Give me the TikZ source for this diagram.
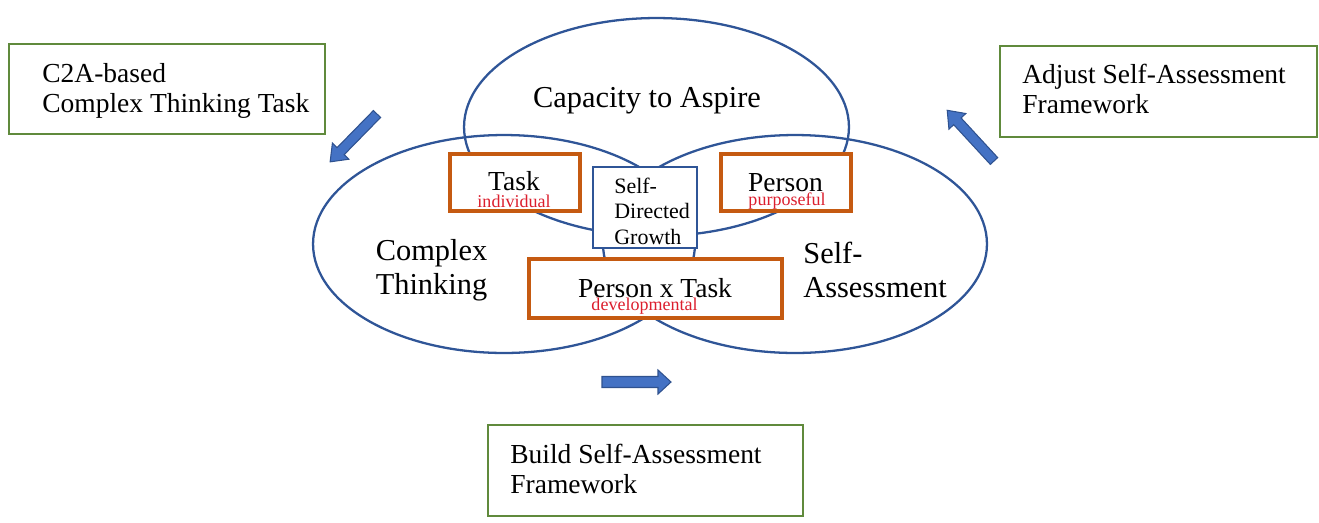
\documentclass[tikz,border=0pt]{standalone}
\usepackage{fontspec}
\setmainfont{Liberation Serif}
\usetikzlibrary{shapes,positioning}

\definecolor{ringblue}{RGB}{47,85,151}
\definecolor{facetorange}{RGB}{197,90,17}
\definecolor{stepgreen}{RGB}{96,138,60}
\definecolor{arrowblue}{RGB}{68,114,196}
\definecolor{arrowedge}{RGB}{47,82,143}
\definecolor{tagred}{RGB}{220,30,45}

\begin{document}
\begin{tikzpicture}[x=0.02cm, y=-0.02cm,
    ring/.style={draw=ringblue, line width=1.3pt, ellipse, inner sep=0pt},
    facetbox/.style={draw=facetorange, line width=1.8pt, fill=white, inner sep=0pt},
    sdgbox/.style={draw=ringblue, line width=1.5pt, fill=white, inner sep=0pt},
    stepbox/.style={draw=stepgreen, line width=1.5pt, inner sep=0pt},
    bigtext/.style={font=\fontsize{17.3}{19.35}\selectfont, inner sep=0pt},
    boxtext/.style={font=\fontsize{15.65}{17.07}\selectfont, inner sep=0pt, align=left, anchor=west},
    facettext/.style={font=\fontsize{15.65}{17.07}\selectfont, inner sep=0pt, anchor=base},
    tagtext/.style={font=\fontsize{10.25}{12}\selectfont, text=tagred, inner sep=0pt, anchor=base},
    blockarrow/.style={fill=arrowblue, draw=arrowedge, line width=0.6pt, line join=miter}]

    \useasboundingbox (0,0) rectangle (1319,522);

    % Draw the three rings
    \node[ring, minimum width=7.7cm, minimum height=4.36cm] (aspire) at (656.5,127) {};
    \node[ring, minimum width=7.64cm, minimum height=4.36cm] (thinking) at (504,244) {};
    \node[ring, minimum width=7.68cm, minimum height=4.36cm] (selfassess) at (795,244) {};

    % Ring labels
    \node[bigtext, anchor=base] (aspirelabel) at (647,107) {Capacity to Aspire};
    \node[bigtext, align=center] (thinkinglabel) at (431.5,270) {Complex\\Thinking};
    \node[bigtext, align=left, anchor=west] (selfassesslabel) at (803,270) {Self-\\Assessment};

    % Draw the overlap boxes
    \node[facetbox, minimum width=2.6cm, minimum height=1.14cm] (taskbox) at (515,182.5) {};
    \node[facetbox, minimum width=2.6cm, minimum height=1.14cm] (personbox) at (786,182.5) {};
    \node[facetbox, minimum width=5.06cm, minimum height=1.18cm] (pxtbox) at (655.5,288.5) {};
    \node[sdgbox, minimum width=2.08cm, minimum height=1.62cm] (sdg) at (645,207.5) {};

    \node[facettext] (tasklabel) at (514,190) {Task};
    \node[tagtext] (tasktag) at (514,207) {individual};
    \node[facettext] (personlabel) at (785.5,191) {Person};
    \node[tagtext] (persontag) at (787,205) {purposeful};
    \node[facettext] (pxtlabel) at (655,297) {Person x Task};
    \node[tagtext] (pxttag) at (644.5,310) {developmental};
    \node[font=\fontsize{12.5}{14.5}\selectfont, inner sep=0pt, align=left, anchor=west] (sdglabel) at (614,211) {Self-\\Directed\\Growth};

    % Draw the step boxes
    \node[stepbox, minimum width=6.32cm, minimum height=1.8cm] (c2abox) at (167,89) {};
    \node[boxtext] (c2alabel) at (42,90.6) {C2A-based\\Complex Thinking Task};
    \node[stepbox, minimum width=6.34cm, minimum height=1.82cm] (adjustbox) at (1158.5,91.5) {};
    \node[boxtext] (adjustlabel) at (1022,88.6) {Adjust Self-Assessment\\Framework};
    \node[stepbox, minimum width=6.3cm, minimum height=1.82cm] (buildbox) at (645.5,470.5) {};
    \node[boxtext] (buildlabel) at (510,468.6) {Build Self-Assessment\\Framework};

    % Draw block arrows
    \foreach \ax/\ay/\ang/\len/\sh/\hh/\hl in {377/114/225.6/67/5/11.5/15, 994/161/132.7/69/5/11.5/15, 602/382/0/69/5.5/12/13}
      \draw[blockarrow, shift={(\ax,\ay)}, rotate=\ang]
        (0,-\sh) -- (\len-\hl,-\sh) -- (\len-\hl,-\hh) -- (\len,0) -- (\len-\hl,\hh) -- (\len-\hl,\sh) -- (0,\sh) -- cycle;

  \end{tikzpicture}
\end{document}
